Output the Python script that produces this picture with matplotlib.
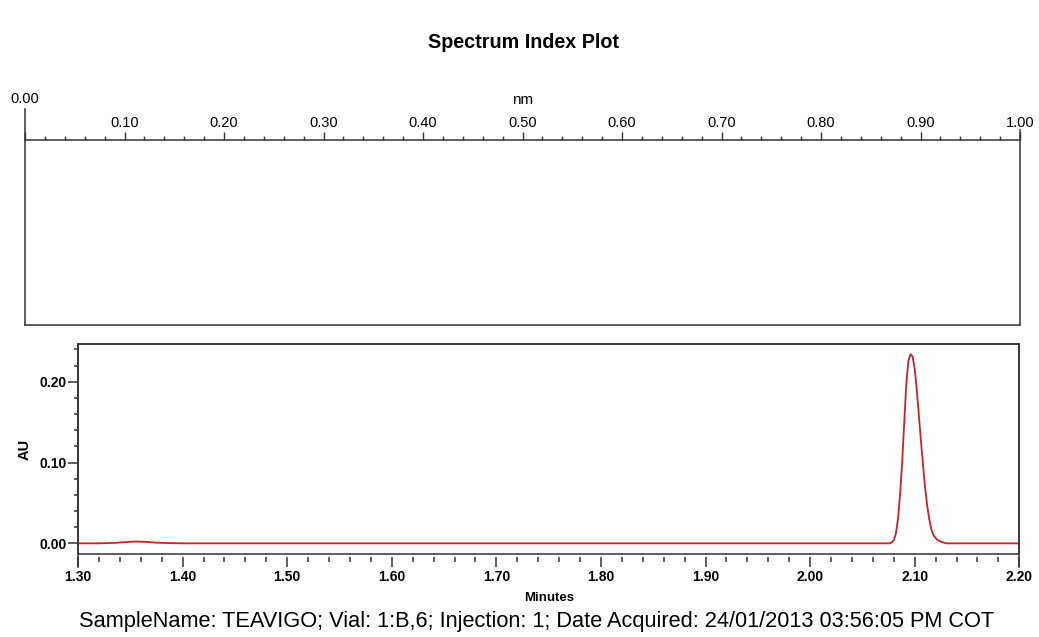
import matplotlib
matplotlib.use("Agg")
import matplotlib.pyplot as plt
from matplotlib.ticker import MultipleLocator, FormatStrFormatter

plt.rcParams['font.family'] = ['Liberation Sans', 'DejaVu Sans']

# chromatogram trace (minutes, AU)
minutes = [1.300, 1.320, 1.335, 1.345, 1.355, 1.365, 1.375, 1.390, 1.400,
           1.600, 1.800, 2.000, 2.070, 2.076,
           2.078, 2.080, 2.082, 2.084, 2.086, 2.088, 2.090, 2.092, 2.094,
           2.096, 2.098, 2.100, 2.102, 2.104, 2.106, 2.108, 2.110, 2.112,
           2.114, 2.116, 2.118, 2.121, 2.125, 2.130, 2.150, 2.200]
au = [0.000, 0.000, 0.0005, 0.0015, 0.0022, 0.0018, 0.0008, 0.0002, 0.000,
      0.000, 0.000, 0.000, 0.000, 0.000,
      0.001, 0.004, 0.012, 0.030, 0.060, 0.100, 0.150, 0.198, 0.226,
      0.234, 0.231, 0.216, 0.190, 0.158, 0.126, 0.096, 0.068, 0.046,
      0.029, 0.017, 0.010, 0.005, 0.002, 0.000, 0.000, 0.000]

title = "Spectrum Index Plot"
footer = ("SampleName: TEAVIGO; Vial: 1:B,6; Injection: 1; "
          "Date Acquired: 24/01/2013 03:56:05 PM COT")

W, H = 1039, 637
fig = plt.figure(figsize=(W / 100, H / 100), dpi=100)
edge = '#333333'

def frac(l, t, r, b):
    return [l / W, 1 - b / H, (r - l) / W, (b - t) / H]

# ---- spectrum index panel (empty) ----
ax1 = fig.add_axes(frac(25, 140, 1020, 325))
ax1.set_xlim(0, 1)
ax1.set_ylim(0, 1)
ax1.xaxis.tick_top()
ax1.xaxis.set_major_locator(MultipleLocator(0.1))
ax1.xaxis.set_minor_locator(MultipleLocator(0.02))
ax1.xaxis.set_major_formatter(FormatStrFormatter('%.2f'))
ax1.set_yticks([])
ax1.tick_params(axis='x', which='major', direction='out', length=5.8,
                width=1.0, pad=1.5, labelsize=10.5, color=edge)
ax1.tick_params(axis='x', which='minor', direction='out', length=2.9,
                width=1.0, color=edge)
for s in ax1.spines.values():
    s.set_color(edge)
    s.set_linewidth(1.1)
ax1.spines['left'].set_bounds(0, 1.168)
ax1.spines['right'].set_bounds(0, 1.054)
ax1.set_xlabel('nm', fontsize=11)
ax1.xaxis.set_label_position('top')
ax1.xaxis.set_label_coords(0.5, 1.195)

# ---- chromatogram panel ----
ax2 = fig.add_axes(frac(78, 344, 1019.3, 554))
ax2.plot(minutes, au, color='#cc2222', lw=1.3)
ax2.set_xlim(1.30, 2.20)
ax2.set_ylim(-0.0132, 0.2467)
for s in ax2.spines.values():
    s.set_color(edge)
    s.set_linewidth(1.1)
# bottom ticks sit slightly below the frame
ax2.spines['bottom'].set_position(('outward', 2.5))
ax2.spines['bottom'].set_visible(False)
ax2.patch.set_edgecolor(edge)
ax2.patch.set_linewidth(1.1)
ax2.spines['left'].set_bounds(-0.029, 0.2467)
ax2.spines['right'].set_bounds(-0.029, 0.2467)

ax2.xaxis.set_major_locator(MultipleLocator(0.1))
ax2.xaxis.set_minor_locator(MultipleLocator(0.02))
ax2.xaxis.set_major_formatter(FormatStrFormatter('%.2f'))
ax2.yaxis.set_major_locator(MultipleLocator(0.1))
ax2.yaxis.set_minor_locator(MultipleLocator(0.02))
ax2.yaxis.set_major_formatter(FormatStrFormatter('%.2f'))
ax2.tick_params(axis='x', which='major', direction='out', length=7.2,
                width=1.1, pad=1.5, color=edge)
ax2.tick_params(axis='x', which='minor', direction='out', length=3.6,
                width=1.1, color=edge)
ax2.tick_params(axis='y', which='major', direction='out', length=7.2,
                width=1.1, pad=0.7, color=edge)
ax2.tick_params(axis='y', which='minor', direction='out', length=3.0,
                width=1.1, color=edge)

ax2.set_xlabel('Minutes', fontsize=9.5, fontweight='bold')
ax2.xaxis.set_label_coords(0.5, -0.18)
ax2.set_ylabel('AU', fontsize=10.5, fontweight='bold')
ax2.yaxis.set_label_coords(-0.049, 0.5)

fig.text(523 / W, 1 - 42 / H, title, fontsize=14.2, fontweight='bold',
         ha='center', va='center')
fig.text(537 / W, 1 - 621 / H, footer, fontsize=15.7, ha='center', va='center')

fig.canvas.draw()
for lab in ax2.get_xticklabels() + ax2.get_yticklabels():
    lab.set_fontsize(10)
    lab.set_fontweight('bold')
# the 0.00 label on the top scale sits higher than the rest
for tick in ax1.xaxis.get_major_ticks():
    if abs(tick.get_loc()) < 1e-9:
        tick.set_pad(19)

fig.savefig('out.png', dpi=100, facecolor='white')
